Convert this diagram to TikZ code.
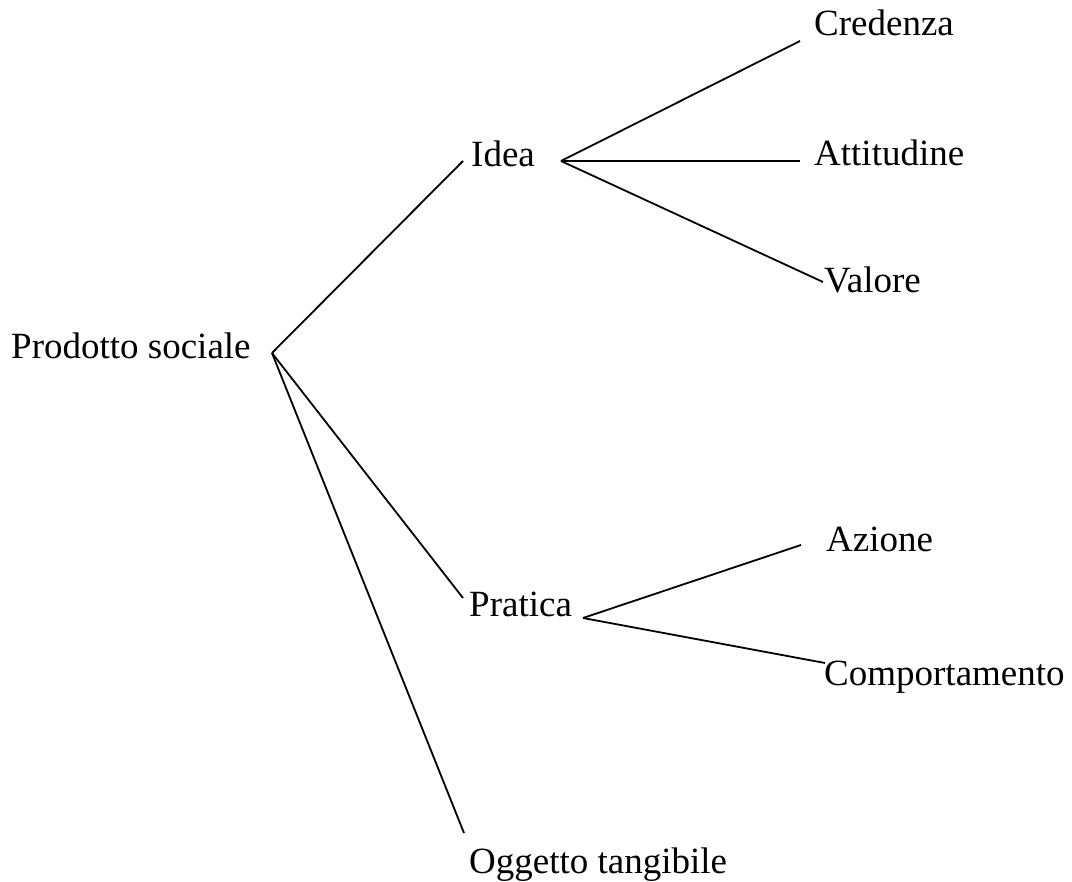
\documentclass[tikz,border=0pt]{standalone}
\usepackage{fontspec}
\setmainfont{Liberation Serif}
\begin{document}
\begin{tikzpicture}[x=1pt,y=-1pt,
  lbl/.style={anchor=base west,inner sep=0pt,font=\fontsize{37}{44}\selectfont},
  edge/.style={line width=1.8pt}]
\useasboundingbox (0,0) rectangle (1072,882);
% text nodes
\node[lbl] (prod) at (11,359) {Prodotto sociale};
\node[lbl] (idea) at (471,167) {Idea};
\node[lbl] (cred) at (814,36) {Credenza};
\node[lbl] (atti) at (814,166) {Attitudine};
\node[lbl] (valo) at (824,293) {Valore};
\node[lbl] (prat) at (469,616) {Pratica};
\node[lbl] (azio) at (826,552) {Azione};
\node[lbl] (comp) at (824,685) {Comportamento};
\node[lbl] (ogge) at (469,873) {Oggetto tangibile};
% junctions and connector ends
\coordinate (rootJ) at (272,353);
\coordinate (ideaIn) at (463,161);
\coordinate (ideaJ) at (561,161);
\coordinate (credIn) at (800,41);
\coordinate (attiIn) at (800,161);
\coordinate (valoIn) at (823,282);
\coordinate (pratIn) at (463,598);
\coordinate (pratJ) at (583,618);
\coordinate (azioIn) at (801,545);
\coordinate (compIn) at (825,663);
\coordinate (oggeIn) at (464,833);
% connectors
\draw[edge] (rootJ) -- (ideaIn);
\draw[edge] (rootJ) -- (pratIn);
\draw[edge] (rootJ) -- (oggeIn);
\draw[edge] (ideaJ) -- (credIn);
\draw[edge] (ideaJ) -- (attiIn);
\draw[edge] (ideaJ) -- (valoIn);
\draw[edge] (pratJ) -- (azioIn);
\draw[edge] (pratJ) -- (compIn);
\end{tikzpicture}
\end{document}
